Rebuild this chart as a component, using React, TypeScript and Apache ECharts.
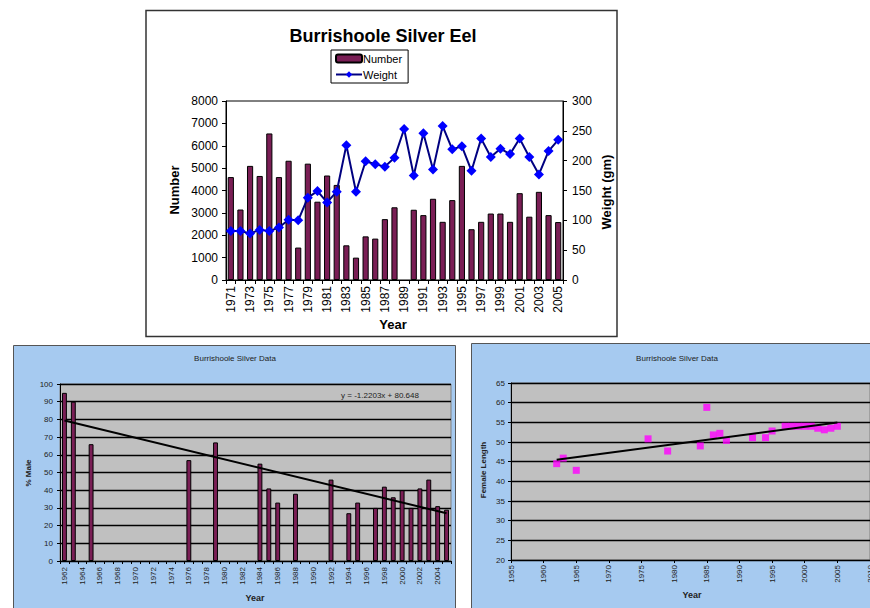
import React, { useEffect, useRef } from "react";
import * as echarts from "echarts";

const FONT = "'Liberation Sans', Arial, sans-serif";

// ---- Top chart: Burrishoole Silver Eel ----
const eelYears = [
  "1971", "1972", "1973", "1974", "1975", "1976", "1977", "1978", "1979", "1980",
  "1981", "1982", "1983", "1984", "1985", "1986", "1987", "1988", "1989", "1990",
  "1991", "1992", "1993", "1994", "1995", "1996", "1997", "1998", "1999", "2000",
  "2001", "2002", "2003", "2004", "2005",
];
const eelNumber = [
  4600, 3150, 5100, 4650, 6550, 4600, 5330, 1450, 5200, 3500,
  4670, 4250, 1550, 1000, 1950, 1850, 2720, 3250, null, 3140,
  2900, 3630, 2600, 3570, 5100, 2270, 2600, 2970, 2970, 2600,
  3880, 2830, 3940, 2900, 2590,
];
const eelWeight = [
  82, 82, 78, 84, 82, 88, 101, 100, 138, 149,
  130, 148, 226, 148, 199, 194, 190, 205, 253, 175,
  246, 185, 258, 219, 224, 183, 237, 206, 220, 211,
  237, 206, 177, 216, 235,
];

// ---- Bottom-left: % Male ----
const maleYears = [
  "1962", "1963", "1964", "1965", "1966", "1967", "1968", "1969", "1970", "1971",
  "1972", "1973", "1974", "1975", "1976", "1977", "1978", "1979", "1980", "1981",
  "1982", "1983", "1984", "1985", "1986", "1987", "1988", "1989", "1990", "1991",
  "1992", "1993", "1994", "1995", "1996", "1997", "1998", "1999", "2000", "2001",
  "2002", "2003", "2004", "2005",
];
const pctMale = [
  95, 90, null, 66, null, null, null, null, null, null,
  null, null, null, null, 57, null, null, 67, null, null,
  null, null, 55, 41, 33, null, 38, null, null, null,
  46, null, 27, 33, null, 30, 42, 36, 40, 30,
  41, 46, 31, 29,
];
const maleTrendSlope = -1.2203;
const maleTrendIntercept = 80.648;
const maleTrendLabel = "y = -1.2203x + 80.648";

// ---- Bottom-right: Female Length ----
const femaleYears = [
  1962, 1963, 1965, 1976, 1979, 1984, 1985, 1986, 1987, 1988, 1992,
  1994, 1995, 1997, 1998, 1999, 2000, 2001, 2002, 2003, 2004, 2005,
];
const femaleLength = [
  44.5, 45.9, 42.8, 50.8, 47.7, 49.0, 58.8, 51.8, 52.2, 50.4, 51.1,
  51.1, 52.8, 54.0, 54.0, 54.0, 54.0, 54.0, 53.5, 53.1, 53.5, 54.0,
];

function linearFit(xs: number[], ys: number[]) {
  const n = xs.length;
  const mx = xs.reduce((a, b) => a + b, 0) / n;
  const my = ys.reduce((a, b) => a + b, 0) / n;
  let sxy = 0;
  let sxx = 0;
  for (let i = 0; i < n; i++) {
    sxy += (xs[i] - mx) * (ys[i] - my);
    sxx += (xs[i] - mx) * (xs[i] - mx);
  }
  const slope = sxy / sxx;
  return { slope, intercept: my - slope * mx };
}

const plain = (v: number) => String(v);

export default function App() {
  const ref = useRef<HTMLDivElement>(null);

  useEffect(() => {
    if (!ref.current) return;
    const chart = echarts.init(ref.current, undefined, { renderer: "svg" });

    const fit = linearFit(femaleYears, femaleLength);
    const fx0 = femaleYears[0];
    const fx1 = femaleYears[femaleYears.length - 1];
    const femaleTrend = [
      [fx0, fit.intercept + fit.slope * fx0],
      [fx1, fit.intercept + fit.slope * fx1],
    ];
    const nMale = maleYears.length;
    const maleTrend = [
      [maleYears[0], maleTrendIntercept + maleTrendSlope * 1],
      [maleYears[nMale - 1], maleTrendIntercept + maleTrendSlope * nMale],
    ];

    const smallText = { fontSize: 8, color: "#222", fontFamily: FONT };
    const blackLine = { lineStyle: { color: "#000", width: 1 } };

    const option: any = {
      animation: false,
      textStyle: { fontFamily: FONT },
      graphic: [
        { type: "rect", z: -10, shape: { x: 146, y: 10.5, width: 471, height: 326 }, style: { fill: "#fff", stroke: "#333", lineWidth: 1.5 } },
        { type: "rect", z: -10, shape: { x: 13.5, y: 345.5, width: 442, height: 280 }, style: { fill: "#A6CAF0", stroke: "#555", lineWidth: 1 } },
        { type: "rect", z: -10, shape: { x: 471.5, y: 343.5, width: 420, height: 280 }, style: { fill: "#A6CAF0", stroke: "#555", lineWidth: 1 } },
        { type: "text", x: 383, y: 36, style: { text: "Burrishoole Silver Eel", font: `bold 18px ${FONT}`, fill: "#000", textAlign: "center", textVerticalAlign: "middle" } },
        { type: "text", x: 174, y: 190, rotation: Math.PI / 2, style: { text: "Number", font: `bold 13px ${FONT}`, fill: "#000", textAlign: "center", textVerticalAlign: "middle" } },
        { type: "text", x: 606, y: 192, rotation: Math.PI / 2, style: { text: "Weight (gm)", font: `bold 13px ${FONT}`, fill: "#000", textAlign: "center", textVerticalAlign: "middle" } },
        { type: "text", x: 393, y: 324, style: { text: "Year", font: `bold 13px ${FONT}`, fill: "#000", textAlign: "center", textVerticalAlign: "middle" } },
        { type: "text", x: 235, y: 358, style: { text: "Burrishoole Silver Data", font: `8px ${FONT}`, fill: "#222", textAlign: "center", textVerticalAlign: "middle" } },
        { type: "text", x: 28, y: 473, rotation: Math.PI / 2, style: { text: "% Male", font: `bold 8px ${FONT}`, fill: "#222", textAlign: "center", textVerticalAlign: "middle" } },
        { type: "text", x: 255, y: 598, style: { text: "Year", font: `bold 9px ${FONT}`, fill: "#222", textAlign: "center", textVerticalAlign: "middle" } },
        { type: "text", x: 380, y: 395, style: { text: maleTrendLabel, font: `8px ${FONT}`, fill: "#222", textAlign: "center", textVerticalAlign: "middle" } },
        { type: "text", x: 677, y: 358, style: { text: "Burrishoole Silver Data", font: `8px ${FONT}`, fill: "#222", textAlign: "center", textVerticalAlign: "middle" } },
        { type: "text", x: 483, y: 470, rotation: Math.PI / 2, style: { text: "Female Length", font: `bold 8px ${FONT}`, fill: "#222", textAlign: "center", textVerticalAlign: "middle" } },
        { type: "text", x: 692, y: 595, style: { text: "Year", font: `bold 9px ${FONT}`, fill: "#222", textAlign: "center", textVerticalAlign: "middle" } },
      ],
      legend: {
        data: ["Number", "Weight"],
        orient: "vertical",
        left: 331,
        top: 50,
        padding: [3, 6, 3, 4],
        itemGap: 5,
        itemWidth: 26,
        itemHeight: 8,
        backgroundColor: "#fff",
        borderColor: "#000",
        borderWidth: 1,
        borderRadius: 0,
        textStyle: { fontSize: 11, color: "#000", fontFamily: FONT, padding: [0, 0, 0, -4] },
      },
      grid: [
        { left: 226, top: 101, width: 337, height: 179, show: true, backgroundColor: "transparent", borderColor: "#000", borderWidth: 1, outerBoundsMode: "none", containLabel: false },
        { left: 60, top: 384, width: 391, height: 177, show: true, backgroundColor: "#C0C0C0", borderColor: "#808080", borderWidth: 1, outerBoundsMode: "none", containLabel: false },
        { left: 511, top: 383, width: 359, height: 177, show: true, backgroundColor: "#C0C0C0", borderColor: "#808080", borderWidth: 1, outerBoundsMode: "none", containLabel: false },
      ],
      xAxis: [
        {
          type: "category", gridIndex: 0, data: eelYears,
          axisLine: blackLine,
          axisTick: { show: true, interval: 0, length: 4, lineStyle: { color: "#000" } },
          axisLabel: { interval: 1, rotate: 90, fontSize: 12, color: "#000", margin: 6, fontFamily: FONT },
          splitLine: { show: false },
        },
        {
          type: "category", gridIndex: 1, data: maleYears,
          axisLine: blackLine,
          axisTick: { show: true, interval: 0, length: 3, lineStyle: { color: "#000" } },
          axisLabel: { interval: 1, rotate: 90, margin: 6, ...smallText },
          splitLine: { show: false },
        },
        {
          type: "value", gridIndex: 2, min: 1955, max: 2010, interval: 5,
          axisLine: { show: true, lineStyle: { color: "#000", width: 1 } },
          axisTick: { show: true, length: 3, lineStyle: { color: "#000" } },
          axisLabel: { rotate: 90, margin: 5, showMinLabel: true, showMaxLabel: true, formatter: plain, ...smallText },
          splitLine: { show: false },
        },
      ],
      yAxis: [
        {
          type: "value", gridIndex: 0, min: 0, max: 8000, interval: 1000,
          axisLine: { show: true, lineStyle: { color: "#000", width: 1 } },
          axisTick: { show: true, length: 4, lineStyle: { color: "#000" } },
          axisLabel: { fontSize: 12, color: "#000", margin: 8, fontFamily: FONT, formatter: plain },
          splitLine: { show: false },
        },
        {
          type: "value", gridIndex: 0, position: "right", min: 0, max: 300, interval: 50,
          axisLine: { show: true, lineStyle: { color: "#000", width: 1 } },
          axisTick: { show: true, length: 4, lineStyle: { color: "#000" } },
          axisLabel: { fontSize: 12, color: "#000", margin: 9, fontFamily: FONT, formatter: plain },
          splitLine: { show: false },
        },
        {
          type: "value", gridIndex: 1, min: 0, max: 100, interval: 10,
          axisLine: { show: true, lineStyle: { color: "#000", width: 1 } },
          axisTick: { show: true, length: 3, lineStyle: { color: "#000" } },
          axisLabel: { margin: 7, formatter: plain, ...smallText },
          splitLine: { show: true, lineStyle: { color: "#000", width: 1.3 } },
        },
        {
          type: "value", gridIndex: 2, min: 20, max: 65, interval: 5,
          axisLine: { show: true, lineStyle: { color: "#000", width: 1 } },
          axisTick: { show: true, length: 3, lineStyle: { color: "#000" } },
          axisLabel: { margin: 6, formatter: plain, ...smallText },
          splitLine: { show: true, lineStyle: { color: "#000", width: 1.3 } },
        },
      ],
      series: [
        {
          name: "Number", type: "bar", xAxisIndex: 0, yAxisIndex: 0, data: eelNumber,
          barWidth: "64%",
          itemStyle: { color: "#7A1E55", borderColor: "#000", borderWidth: 1 },
        },
        {
          name: "Weight", type: "line", xAxisIndex: 0, yAxisIndex: 1, data: eelWeight,
          symbol: "diamond", symbolSize: 10, showAllSymbol: true,
          lineStyle: { color: "#000080", width: 2 },
          itemStyle: { color: "#0000FF" },
        },
        {
          name: "% Male", type: "bar", xAxisIndex: 1, yAxisIndex: 2, data: pctMale,
          barWidth: "55%",
          itemStyle: { color: "#7A1E55", borderColor: "#000", borderWidth: 1 },
        },
        {
          name: "Male trend", type: "line", xAxisIndex: 1, yAxisIndex: 2, data: maleTrend,
          symbol: "none", lineStyle: { color: "#000", width: 2 }, silent: true, z: 5,
        },
        {
          name: "Female Length", type: "scatter", xAxisIndex: 2, yAxisIndex: 3,
          data: femaleYears.map((y, i) => [y, femaleLength[i]]),
          symbol: "rect", symbolSize: 7,
          itemStyle: { color: "#FF00FF" },
        },
        {
          name: "Female trend", type: "line", xAxisIndex: 2, yAxisIndex: 3, data: femaleTrend,
          symbol: "none", lineStyle: { color: "#000", width: 2 }, silent: true, z: 5,
        },
      ],
    };

    chart.setOption(option);
    return () => chart.dispose();
  }, []);

  return (
    <div
      ref={ref}
      style={{ position: "absolute", left: 0, top: 0, width: 870, height: 608, overflow: "hidden" }}
    />
  );
}
